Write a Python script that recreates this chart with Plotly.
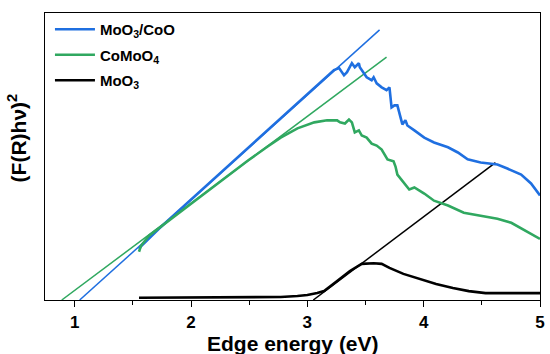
import plotly.graph_objects as go

# ---- data (intensity in arbitrary units) ----
blue_E = [1.553, 1.570, 1.724, 1.893, 2.064, 2.234, 2.405, 2.574, 2.744, 2.915, 3.085, 3.170, 3.229,
          3.273, 3.315, 3.341, 3.383, 3.408, 3.443, 3.451, 3.485, 3.510, 3.553, 3.570, 3.596, 3.639,
          3.681, 3.706, 3.724, 3.749, 3.774, 3.800, 3.817, 3.843, 3.860, 3.920, 4.005, 4.089, 4.209,
          4.294, 4.378, 4.490, 4.634, 4.719, 4.838, 4.923, 5.0]
blue_I = [17.8, 18.7, 24.8, 31.0, 37.3, 43.5, 49.7, 55.9, 62.1, 68.3, 74.5, 77.6, 80.1,
          80.8, 78.3, 79.4, 82.5, 81.1, 82.5, 81.1, 79.0, 77.6, 76.6, 77.6, 75.5, 74.1,
          73.1, 74.1, 67.1, 67.8, 67.8, 63.6, 61.2, 62.6, 60.8, 59.1, 56.6, 54.9, 53.2,
          51.4, 49.0, 47.9, 47.2, 45.8, 43.7, 40.6, 36.4]

green_E = [1.553, 1.570, 1.639, 1.808, 1.979, 2.149, 2.319, 2.490, 2.659, 2.771, 2.915, 3.060, 3.170,
           3.256, 3.281, 3.323, 3.358, 3.383, 3.408, 3.443, 3.468, 3.510, 3.553, 3.596, 3.639, 3.689,
           3.741, 3.758, 3.774, 3.834, 3.876, 3.920, 4.005, 4.089, 4.209, 4.345, 4.490, 4.634, 4.753,
           4.864, 5.0]
green_I = [16.8, 18.9, 22.4, 27.6, 32.9, 38.1, 43.4, 48.6, 53.5, 56.6, 59.8, 61.9, 62.6,
           62.6, 61.9, 61.5, 62.9, 61.9, 58.4, 59.1, 57.3, 56.6, 54.5, 53.8, 52.4, 49.0,
           48.3, 46.5, 43.7, 40.6, 38.5, 39.2, 37.1, 34.6, 32.9, 30.4, 29.4, 28.3, 26.9,
           24.5, 21.3]

black_E = [1.553, 2.064, 2.490, 2.771, 2.915, 3.000, 3.085, 3.144, 3.256, 3.366, 3.468, 3.570, 3.639,
           3.706, 3.826, 3.962, 4.107, 4.251, 4.388, 4.532, 4.761, 5.0]
black_I = [0.8, 0.8, 0.8, 1.05, 1.4, 1.75, 2.45, 3.15, 6.6, 10.1, 12.6, 12.8, 12.6,
           11.2, 9.1, 7.3, 5.6, 4.2, 3.1, 2.4, 2.4, 2.4]

# tangent (Tauc) lines: endpoints
blue_fit_E = [1.043, 3.621]
blue_fit_I = [0.0, 94.1]
green_fit_E = [0.889, 3.681]
green_fit_I = [0.0, 84.6]
black_fit_E = [3.051, 4.617]
black_fit_I = [0.0, 47.9]

labels = ["MoO<sub>3</sub>/CoO", "CoMoO<sub>4</sub>", "MoO<sub>3</sub>"]
xticks = [1, 2, 3, 4, 5]
x_title = "Edge energy (eV)"
y_title = "(F(R)hν)<sup>2</sup>"

BLUE = "#1f6fe0"
GREEN = "#30a860"
BLACK = "#000000"
FONT = "Liberation Sans, Arial, sans-serif"

fig = go.Figure()
# fit lines first (under data)
for E, I, c in [(blue_fit_E, blue_fit_I, BLUE), (green_fit_E, green_fit_I, GREEN),
                (black_fit_E, black_fit_I, BLACK)]:
    fig.add_trace(go.Scatter(x=E, y=I, mode="lines", line=dict(color=c, width=1.5),
                             showlegend=False, hoverinfo="skip"))

for k, (E, I, c, name) in enumerate([(blue_E, blue_I, BLUE, labels[0]), (green_E, green_I, GREEN, labels[1]),
                                     (black_E, black_I, BLACK, labels[2])]):
    fig.add_trace(go.Scatter(x=E, y=I, mode="lines", name=name, legendgroup=f"g{k}",
                             line=dict(color=c, width=2.6)))

fig.update_layout(
    width=550, height=354,
    margin=dict(l=45, r=5, t=13, b=54),
    plot_bgcolor="white", paper_bgcolor="white",
    font=dict(family=FONT, color="black"),
    showlegend=True,
    legend=dict(x=0.01, y=1.0, xanchor="left", yanchor="top", bgcolor="rgba(0,0,0,0)",
                font=dict(family=FONT, size=15, weight="bold"), tracegroupgap=3,
                itemwidth=40),
    xaxis=dict(range=[0.745, 5.0], tickvals=xticks, ticktext=[str(t) for t in xticks],
               ticks="outside", ticklen=6, tickwidth=1.3, tickcolor="black",
               tickfont=dict(family=FONT, size=17, weight="bold"),
               minor=dict(dtick=0.5, tick0=0.5, ticks="outside", ticklen=4, tickwidth=1.2, tickcolor="black"),
               showline=True, linecolor="black", linewidth=1.3, mirror=True,
               showgrid=False, zeroline=False),
    yaxis=dict(range=[0, 100], showticklabels=False, ticks="",
               showline=True, linecolor="black", linewidth=1.3, mirror=True,
               showgrid=False, zeroline=False),
    annotations=[
        dict(text=x_title, xref="paper", yref="paper", x=0.5, y=-0.15, xanchor="center", yanchor="middle",
             showarrow=False, font=dict(family=FONT, size=21, weight="bold", color="black")),
        dict(text=y_title, xref="paper", yref="paper", x=-0.056, y=0.564, xanchor="center", yanchor="middle",
             textangle=-90, showarrow=False, font=dict(family=FONT, size=21, weight="bold", color="black")),
    ],
)

fig.write_html("out.html", post_script="document.body.style.margin='0';",
               config={"displayModeBar": False})
